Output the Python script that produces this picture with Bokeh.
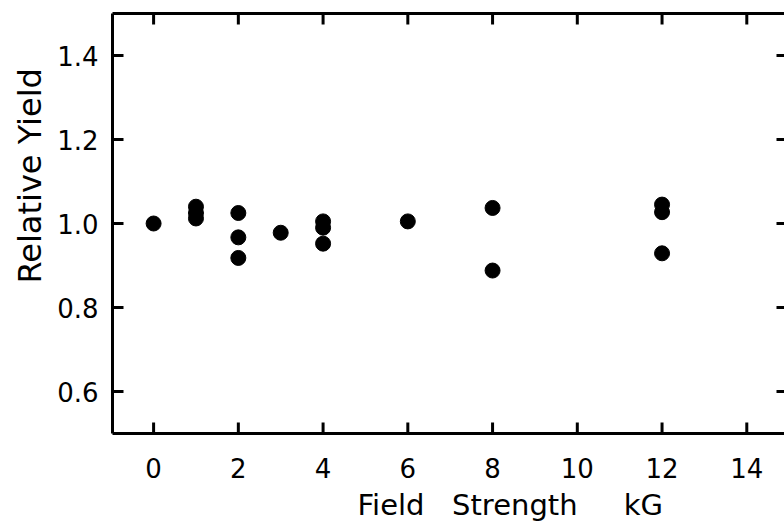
from math import pi
from bokeh.plotting import figure
from bokeh.models import Range1d, LinearAxis, FixedTicker, Title, ColumnDataSource
from bokeh.embed import file_html
from bokeh.resources import INLINE

# ---- data ----
field_kg = [0, 1, 1, 1, 2, 2, 2, 3, 4, 4, 4, 6, 8, 8, 12, 12, 12]
relative_yield = [1.000, 1.040, 1.025, 1.012, 1.025, 0.967, 0.918, 0.978,
                  1.005, 0.990, 0.952, 1.005, 1.037, 0.888, 1.045, 1.027, 0.929]
x_ticks = [0, 2, 4, 6, 8, 10, 12, 14]
y_ticks = [0.6, 0.8, 1.0, 1.2, 1.4]
y_tick_labels = ["0.6", "0.8", "1.0", "1.2", "1.4"]
x_label = "Field\u00a0\u00a0\u00a0Strength\u00a0\u00a0\u00a0\u00a0\u00a0kG"
y_label = "Relative Yield"

FONT = "DejaVu Sans"

# ---- layout (pixels) ----
W, H = 784, 529
B_LEFT, B_RIGHT, B_TOP, B_BOTTOM = 112, 0, 13, 96
FRAME_W = W - B_LEFT - B_RIGHT
FRAME_H = H - B_TOP - B_BOTTOM
TICK = 11        # inward tick length, left/bottom/top
TICK_R = 8       # inward tick length, right

src = ColumnDataSource(dict(x=field_kg, y=relative_yield))

xr = Range1d(-0.97, 14.89)
yr_ = Range1d(0.5, 1.5)
px_x = (xr.end - xr.start) / FRAME_W   # data units per pixel
px_y = (yr_.end - yr_.start) / FRAME_H

p = figure(width=W, height=H, output_backend="svg", toolbar_location=None,
           x_range=xr, y_range=yr_,
           x_axis_location=None, y_axis_location=None,
           min_border_left=B_LEFT, min_border_right=B_RIGHT,
           min_border_top=B_TOP, min_border_bottom=B_BOTTOM)
p.background_fill_color = "white"
p.border_fill_color = "white"
p.grid.visible = False
p.outline_line_color = None


def style(ax, ticks, show_labels):
    ax.ticker = FixedTicker(ticks=ticks)
    ax.major_tick_in = 0
    ax.major_tick_out = 0
    ax.major_tick_line_color = None
    ax.minor_tick_line_color = None
    ax.axis_line_width = 3
    ax.axis_line_color = "black"
    if show_labels:
        ax.major_label_text_font = FONT
        ax.major_label_text_font_size = "26px"
        ax.major_label_text_color = "black"
    else:
        ax.major_label_overrides = {t: "" for t in ticks}
        ax.major_label_text_font_size = "0px"
        ax.major_label_text_color = None
        ax.major_label_standoff = 0


xb = LinearAxis()
style(xb, x_ticks, True)
xb.major_label_standoff = 24
p.add_layout(xb, "below")

yl = LinearAxis()
style(yl, y_ticks, True)
yl.major_label_standoff = 14
yl.major_label_overrides = {t: s for t, s in zip(y_ticks, y_tick_labels)}
p.add_layout(yl, "left")

xt = LinearAxis()
style(xt, x_ticks, False)
p.add_layout(xt, "above")

# inward tick marks, drawn as short dashes lying fully inside the frame
n_x = len(x_ticks)
n_y = len(y_ticks)
tick_kw = dict(marker="dash", line_width=3, line_color="black")
p.scatter(x=x_ticks, y=[yr_.start + TICK / 2 * px_y] * n_x, angle=pi / 2,
          size=TICK, **tick_kw)
p.scatter(x=x_ticks, y=[yr_.end - TICK / 2 * px_y] * n_x, angle=pi / 2,
          size=TICK, **tick_kw)
p.scatter(x=[xr.start + TICK / 2 * px_x] * n_y, y=y_ticks, size=TICK, **tick_kw)
p.scatter(x=[xr.end - TICK_R / 2 * px_x] * n_y, y=y_ticks, size=TICK_R, **tick_kw)

p.scatter("x", "y", source=src, size=15, marker="circle",
          fill_color="black", line_color="black")

p.add_layout(Title(text=x_label, align="left", offset=245, standoff=10,
                   text_font=FONT, text_font_size="29px",
                   text_font_style="normal", text_color="black"), "below")
p.add_layout(Title(text=y_label, align="left", offset=150, standoff=12,
                   text_font=FONT, text_font_size="32px",
                   text_font_style="normal", text_color="black"), "left")

open("out.html", "w").write(file_html(p, INLINE))
